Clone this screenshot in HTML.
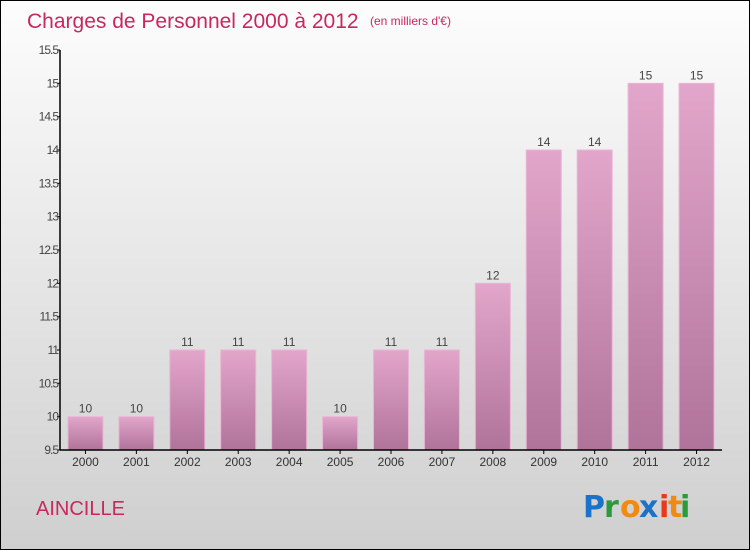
<!DOCTYPE html>
<html><head><meta charset="utf-8"><style>
body{margin:0}
#c{position:relative;width:748px;height:548px;border:1px solid #000;background:linear-gradient(#fdfdfd,#e6e6e6 50%,#cfcfcf);font-family:"Liberation Sans",sans-serif;overflow:hidden}
</style></head><body>
<div id="c">
<svg width="748" height="548" style="position:absolute;left:0;top:0" id="svg">
<defs><linearGradient id="bg" x1="0" y1="0" x2="0" y2="1"><stop offset="0" stop-color="#e3a6cb"/><stop offset="1" stop-color="#b0739a"/></linearGradient></defs>
<text x="26" y="27" font-size="21" fill="#c8285e">Charges de Personnel 2000 à 2012</text>
<text x="369" y="24" font-size="12" fill="#c8285e">(en milliers d'€)</text>
<text x="35" y="514" font-size="20" fill="#c8285e">AINCILLE</text>
<g font-size="30" font-family="'DejaVu Sans',sans-serif" font-weight="bold">
<text x="582" y="516" fill="#1a73c8">P</text><text x="603" y="516" fill="#2a9a3a">r</text><text x="619" y="516" fill="#f08a10">o</text><text x="638" y="516" fill="#1a73c8">x</text><text x="658" y="516" fill="#e83a1a">i</text><text x="667" y="516" fill="#f08a10">t</text><text x="679" y="516" fill="#2a9a3a">i</text></g>
<g id="g"></g>
</svg>
</div>
<script>
const years=["2000","2001","2002","2003","2004","2005","2006","2007","2008","2009","2010","2011","2012"];
const values=[10,10,11,11,11,10,11,11,12,14,14,15,15];
const ticks=[9.5,10,10.5,11,11.5,12,12.5,13,13.5,14,14.5,15,15.5];
const NS="http://www.w3.org/2000/svg";
const g=document.getElementById('g');
const x0=59,x1=721,yTop=49,yBot=449,vmin=9.5,vmax=15.5;
const y=v=>yBot-(v-vmin)/(vmax-vmin)*(yBot-yTop);
const band=(x1-x0)/years.length;
function el(t,a){const e=document.createElementNS(NS,t);for(const k in a)e.setAttribute(k,a[k]);g.appendChild(e);return e;}
values.forEach((v,i)=>{
 const cx=x0+band*(i+0.5);
 const r=el('rect',{x:cx-17.5,y:y(v),width:35,height:yBot-y(v),fill:'url(#bg)',stroke:'#eab5d5','stroke-width':1});
 
 
 const t=el('text',{x:cx,y:y(v)-4,'text-anchor':'middle','font-size':12,fill:'#444'});t.textContent=v;
 
 
 const xl=el('text',{x:cx,y:yBot+16,'text-anchor':'middle','font-size':12,fill:'#333'});xl.textContent=years[i];
 
 
 el('line',{x1:cx,x2:cx,y1:yBot,y2:yBot+4,stroke:'#000'});
});
ticks.forEach(t=>{
 el('line',{x1:x0-3,x2:x0,y1:y(t),y2:y(t),stroke:'#000'});
 const l=el('text',{x:x0-2,y:y(t)+4,'text-anchor':'end','font-size':12,fill:'#444','letter-spacing':'-1'});l.textContent=t;
 
 
});
const ya=el('line',{x1:x0,x2:x0,y1:yTop,y2:yBot,stroke:'#000','stroke-width':1.5});


const xa=el('line',{x1:x0,x2:x1,y1:yBot,y2:yBot,stroke:'#000','stroke-width':1.5});


</script>
</body></html>
